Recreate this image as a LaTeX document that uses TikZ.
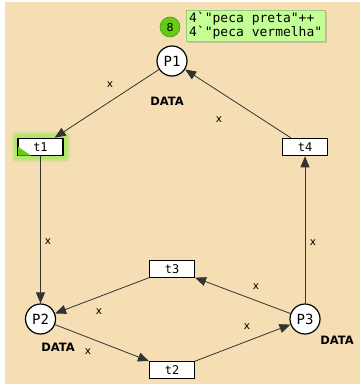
\documentclass[tikz,border=0pt]{standalone}
\usepackage{fontspec}
\setmainfont{DejaVu Sans}
\setmonofont{DejaVu Sans Mono}
\usetikzlibrary{arrows.meta,shadows}
\definecolor{bg}{RGB}{245,222,179}
\definecolor{markc}{RGB}{196,255,150}
\definecolor{tokc}{RGB}{100,204,20}
\definecolor{glowc}{RGB}{178,228,110}
\begin{document}
\begin{tikzpicture}[x=1pt,y=-1pt,
  place/.style={circle,draw=black,line width=1.2pt,fill=white,minimum size=30pt,inner sep=0pt,font=\ttfamily\fontsize{14}{14}\selectfont},
  trans/.style={rectangle,draw=black,line width=1.1pt,fill=white,minimum width=45pt,minimum height=17.5pt,inner sep=0pt,font=\ttfamily\fontsize{12}{12}\selectfont},
  arc/.style={draw=black!80,line width=0.8pt,-{Triangle[length=11pt,width=9pt]}},
  lbl/.style={font=\fontsize{10.5}{10.5}\selectfont,inner sep=0pt},
  typ/.style={font=\bfseries\fontsize{11.5}{11.5}\selectfont,inner sep=0pt}]
\useasboundingbox (0,0) rectangle (360,387);
\fill[white] (0,0) rectangle (360,387);
\fill[bg] (5,2) rectangle (360,384);
% glow around t1
\fill[glowc,opacity=0.5,rounded corners=4pt] (12,132) rectangle (70,162);
\fill[glowc,rounded corners=3pt] (14.5,134.5) rectangle (67.5,159.5);
% places and transitions
\node[place] (P1) at (172,61) {P1};
\node[place] (P2) at (40.5,319) {P2};
\node[place] (P3) at (305,319) {P3};
\node[trans] (t1) at (40.5,147) {t1};
\node[trans] (t2) at (172,370) {t2};
\node[trans] (t3) at (172,269) {t3};
\node[trans] (t4) at (305,147) {t4};
\fill[tokc] ([xshift=0.6pt,yshift=0.6pt]t1.south west) -- ++(0,-9) -- ++(13,9) -- cycle;
% token and marking
\node[circle,fill=tokc,draw=tokc!75!black,line width=0.6pt,minimum size=20pt,inner sep=0pt,font=\fontsize{11}{11}\selectfont] (tok) at (170,27) {8};
\node[anchor=north west,fill=markc,draw=markc!80!black,line width=0.4pt,
  drop shadow={shadow xshift=2pt,shadow yshift=-2pt,opacity=0.3},
  minimum width=139pt,minimum height=31pt,inner xsep=2pt,inner ysep=2pt,align=left,
  font=\ttfamily\fontsize{13}{14}\selectfont] (mk) at (186,10)
  {4`"peca preta"++\\4`"peca vermelha"};
% arcs
\draw[arc] (P1) -- (t1);
\draw[arc] (t1) -- (P2);
\draw[arc] (P2) -- (t2);
\draw[arc] (t2) -- (P3);
\draw[arc] (P3) -- (t3);
\draw[arc] (t3) -- (P2);
\draw[arc] (P3) -- (t4);
\draw[arc] (t4) -- (P1);
% arc labels
\node[lbl] (x1) at (110,85) {x};
\node[lbl] (x2) at (219,120) {x};
\node[lbl] (x3) at (48,242) {x};
\node[lbl] (x4) at (313,243) {x};
\node[lbl] (x5) at (256,287) {x};
\node[lbl] (x6) at (99,312) {x};
\node[lbl] (x7) at (88,352) {x};
\node[lbl] (x8) at (247,327) {x};
% colour set labels
\node[typ] (d1) at (167,101) {DATA};
\node[typ] (d2) at (58,347) {DATA};
\node[typ] (d3) at (337,340) {DATA};
\end{tikzpicture}
\end{document}
